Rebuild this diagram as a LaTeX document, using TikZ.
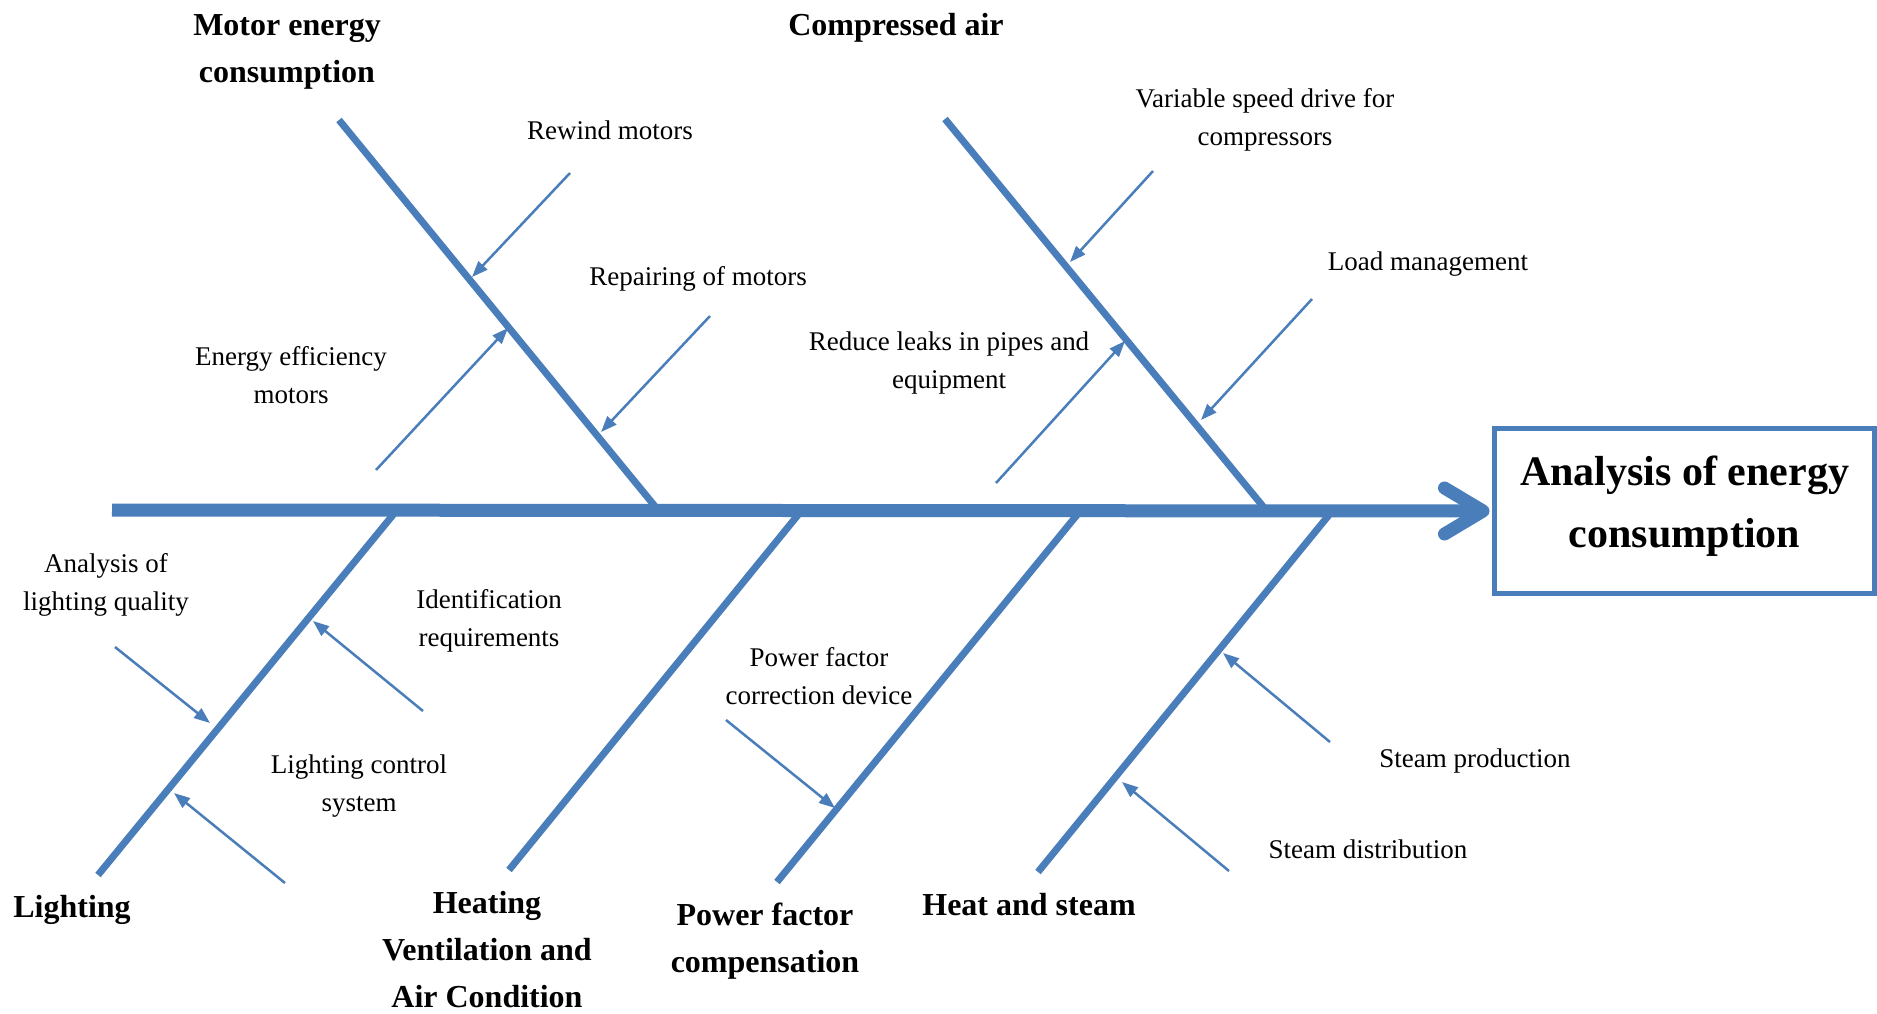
\documentclass[tikz,border=0pt]{standalone}
\usepackage{fontspec}
\setmainfont{Liberation Serif}
\usetikzlibrary{arrows.meta,calc}
\definecolor{fbblue}{HTML}{4A7EBB}
\begin{document}
\begin{tikzpicture}[x=1pt,y=-1pt,
  spineline/.style={draw=fbblue,line width=13pt},
  chevron/.style={draw=fbblue,line width=13pt,line cap=round,line join=round},
  bone/.style={draw=fbblue,line width=7pt},
  cause/.style={draw=fbblue,line width=2.5pt,-{Triangle[length=16pt,width=12pt]}},
  sublabel/.style={font=\fontsize{27}{38}\selectfont,align=center,anchor=base,inner sep=0pt},
  catlabel/.style={font=\bfseries\fontsize{32}{47}\selectfont,align=center,anchor=base,inner sep=0pt},
  effectbox/.style={draw=fbblue,line width=5pt,minimum width=380pt,minimum height=165pt,inner sep=0pt},
  effecttext/.style={font=\bfseries\fontsize{42}{62}\selectfont,align=center,anchor=base,inner sep=0pt}]
\fill[white] (0,0) rectangle (1877,1013);
\useasboundingbox (0,0) rectangle (1877,1013);

% effect box (text: last line baseline given)
\node[effectbox] (effect) at (1684.5,511) {};
\node[effecttext] (effectlabel) at (1684.5,547) {Analysis of energy\\consumption};

% spine
\coordinate (tail) at (112,510);
\coordinate (tip) at ($(effect.west)+(-9,0)$);
\draw[spineline] (tail) -- (tip);
\draw[chevron] ($(tip)+(-38.5,-23)$) -- (tip) -- ($(tip)+(-38.5,23)$);

% bone end points
\coordinate (mTop) at (339,120);   \coordinate (mBot) at (658,510);
\coordinate (cTop) at (945,119);   \coordinate (cBot) at (1266,510);
\coordinate (lBot) at (98,875);    \coordinate (lTop) at (397,510);
\coordinate (hBot) at (509,870);   \coordinate (hTop) at (802,510);
\coordinate (pBot) at (777,882);   \coordinate (pTop) at (1081,510);
\coordinate (sBot) at (1038,872);  \coordinate (sTop) at (1333,510);

\draw[bone] (mTop) -- (mBot);
\draw[bone] (cTop) -- (cBot);
\draw[bone] (lBot) -- (lTop);
\draw[bone] (hBot) -- (hTop);
\draw[bone] (pBot) -- (pTop);
\draw[bone] (sBot) -- (sTop);

% category labels (anchor = baseline of last line)
\node[catlabel] (motor) at (287,82) {Motor energy\\consumption};
\node[catlabel] (comp) at (896,35) {Compressed air};
\node[catlabel] (light) at (72,917) {Lighting};
\node[catlabel] (hvac) at (487,1007) {Heating\\Ventilation and\\Air Condition};
\node[catlabel] (pf) at (765,972) {Power factor\\compensation};
\node[catlabel] (heat) at (1029,915) {Heat and steam};

% sub-cause labels (anchor = baseline of last line)
\node[sublabel] (rewind) at (610,139) {Rewind motors};
\node[sublabel] (repair) at (698,285) {Repairing of motors};
\node[sublabel] (eff) at (291,403) {Energy efficiency\\motors};
\node[sublabel] (vsd) at (1265,145) {Variable speed drive for\\compressors};
\node[sublabel] (load) at (1428,270) {Load management};
\node[sublabel] (leaks) at (949,388) {Reduce leaks in pipes and\\equipment};
\node[sublabel] (lq) at (106,610) {Analysis of\\lighting quality};
\node[sublabel] (ident) at (489,646) {Identification\\requirements};
\node[sublabel] (lcs) at (359,811) {Lighting control\\system};
\node[sublabel] (pfc) at (819,704) {Power factor\\correction device};
\node[sublabel] (sprod) at (1475,767) {Steam production};
\node[sublabel] (sdist) at (1368,858) {Steam distribution};

% sub-cause arrows
\coordinate (a1s) at (570,173);  \coordinate (a1e) at (472,277);
\coordinate (a2s) at (710,316);  \coordinate (a2e) at (601,432);
\coordinate (a3s) at (376,470);  \coordinate (a3e) at (508,328);
\coordinate (a4s) at (1153,171); \coordinate (a4e) at (1070,262);
\coordinate (a5s) at (1312,299); \coordinate (a5e) at (1201,420);
\coordinate (a6s) at (996,483);  \coordinate (a6e) at (1125,341);
\coordinate (a7s) at (115,647);  \coordinate (a7e) at (210,723);
\coordinate (a8s) at (423,711);  \coordinate (a8e) at (313,621);
\coordinate (a9s) at (285,883);  \coordinate (a9e) at (174,793);
\coordinate (a10s) at (726,720); \coordinate (a10e) at (835,808);
\coordinate (a11s) at (1330,742);\coordinate (a11e) at (1223,653);
\coordinate (a12s) at (1229,871);\coordinate (a12e) at (1122,782);
\foreach \i in {1,...,12} {\draw[cause] (a\i s) -- (a\i e);}
\end{tikzpicture}
\end{document}
